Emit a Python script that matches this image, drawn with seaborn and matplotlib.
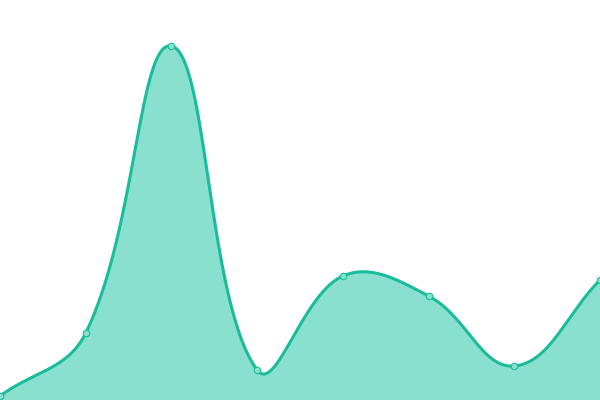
import numpy as np
import pandas as pd
import matplotlib
matplotlib.use("Agg")
import matplotlib.pyplot as plt
import seaborn as sns

# data points
steps = [0, 1, 2, 3, 4, 5, 6, 7]
values = [4, 67, 354, 30, 124, 104, 34, 120]

line_color = "#1abc9c"
fill_color = "#8ae0cf"

W, H = 600, 400
X_MAX, Y_MAX = 7, 400


def spline(x, y, tension=0.4, n=60):
    # chart.js style bezier spline, control points computed in pixel space
    px = np.asarray(x, float) * W / X_MAX
    py = np.asarray(y, float) * H / Y_MAX
    pts = np.column_stack([px, py])
    k = len(pts)
    c_prev = np.zeros_like(pts)
    c_next = np.zeros_like(pts)
    for i in range(k):
        prev = pts[max(i - 1, 0)]
        cur = pts[i]
        nxt = pts[min(i + 1, k - 1)]
        d01 = np.hypot(*(cur - prev))
        d12 = np.hypot(*(nxt - cur))
        s01 = d01 / (d01 + d12) if d01 + d12 else 0
        s12 = d12 / (d01 + d12) if d01 + d12 else 0
        c_prev[i] = cur - tension * s01 * (nxt - prev)
        c_next[i] = cur + tension * s12 * (nxt - prev)
    c_prev[:, 0] = c_prev[:, 0].clip(0, W)
    c_prev[:, 1] = c_prev[:, 1].clip(0, H)
    c_next[:, 0] = c_next[:, 0].clip(0, W)
    c_next[:, 1] = c_next[:, 1].clip(0, H)
    t = np.linspace(0, 1, n, endpoint=False)[:, None]
    segs = []
    for i in range(k - 1):
        p0, p1, p2, p3 = pts[i], c_next[i], c_prev[i + 1], pts[i + 1]
        segs.append((1 - t) ** 3 * p0 + 3 * (1 - t) ** 2 * t * p1
                    + 3 * (1 - t) * t ** 2 * p2 + t ** 3 * p3)
    segs.append(pts[-1:])
    out = np.vstack(segs)
    return out[:, 0] * X_MAX / W, out[:, 1] * Y_MAX / H


sx, sy = spline(steps, values)
curve = pd.DataFrame({"x": sx, "y": sy})
points = pd.DataFrame({"x": steps, "y": values})

sns.set_style("white")
fig = plt.figure(figsize=(6, 4), dpi=100)
ax = fig.add_axes([0, 0, 1, 1])

ax.fill_between(curve["x"], curve["y"], 0, color=fill_color, lw=0, zorder=1)
sns.lineplot(data=curve, x="x", y="y", ax=ax, color=line_color, lw=2.2,
             sort=False, zorder=2)
sns.scatterplot(data=points, x="x", y="y", ax=ax, color=fill_color,
                edgecolor=line_color, linewidth=0.8, s=22, zorder=3,
                clip_on=False)

ax.set_xlim(0, X_MAX)
ax.set_ylim(0, Y_MAX)
ax.axis("off")

fig.savefig("out.png", dpi=100)
